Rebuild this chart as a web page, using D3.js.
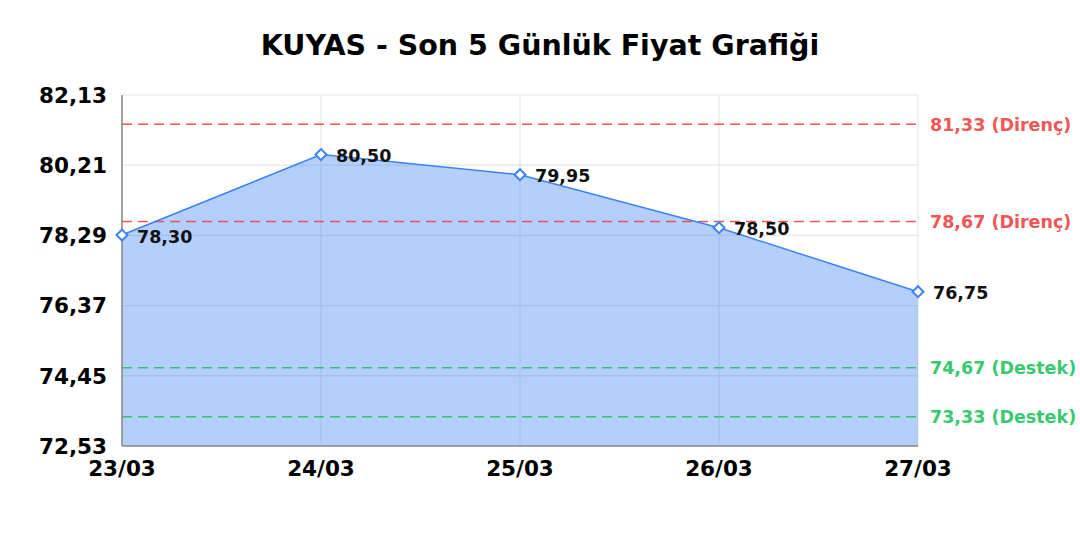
<!DOCTYPE html>
<html>
<head>
<meta charset="utf-8">
<script src="https://cdn.jsdelivr.net/npm/d3@7"></script>
<style>
  body { margin: 0; background: #fff; }
  text { font-family: "DejaVu Sans", sans-serif; font-weight: bold; }
</style>
</head>
<body>
<div id="chart"></div>
<script>
const dates = ["23/03", "24/03", "25/03", "26/03", "27/03"];
const prices = [78.30, 80.50, 79.95, 78.50, 76.75];
const yTicks = [72.53, 74.45, 76.37, 78.29, 80.21, 82.13];
const resistance = [81.33, 78.67];
const support = [74.67, 73.33];

const width = 1080, height = 540;
const margin = { top: 95, right: 162, bottom: 94, left: 122 };
const fmt = v => v.toFixed(2).replace(".", ",");

const svg = d3.select("#chart").append("svg")
  .attr("width", width).attr("height", height);

const x = d3.scalePoint().domain(dates).range([margin.left, width - margin.right]);
const y = d3.scaleLinear().domain([72.53, 82.13]).range([height - margin.bottom, margin.top]);

svg.append("text")
  .attr("x", width / 2).attr("y", 55)
  .attr("text-anchor", "middle")
  .attr("font-size", 28.5)
  .text("KUYAS - Son 5 Günlük Fiyat Grafiği");

// grid
svg.append("g").selectAll("line").data(yTicks).join("line")
  .attr("x1", margin.left).attr("x2", width - margin.right)
  .attr("y1", d => y(d)).attr("y2", d => y(d))
  .attr("stroke", "#e6e6e6").attr("stroke-width", 1.2);
svg.append("g").selectAll("line").data(dates).join("line")
  .attr("x1", d => x(d)).attr("x2", d => x(d))
  .attr("y1", margin.top).attr("y2", height - margin.bottom)
  .attr("stroke", "#e6e6e6").attr("stroke-width", 1.2);

const pts = dates.map((d, i) => ({ d, v: prices[i] }));

// area
svg.append("path").datum(pts)
  .attr("fill", "rgba(59,130,246,0.38)")
  .attr("d", d3.area().x(p => x(p.d)).y0(y(72.53)).y1(p => y(p.v)));

// reference lines
const refs = resistance.map(v => ({ v, label: `${fmt(v)} (Direnç)`, color: "#ef4444" }))
  .concat(support.map(v => ({ v, label: `${fmt(v)} (Destek)`, color: "#22c55e" })));
const rg = svg.append("g");
rg.selectAll("line").data(refs).join("line")
  .attr("x1", margin.left).attr("x2", width - margin.right)
  .attr("y1", d => y(d.v)).attr("y2", d => y(d.v))
  .attr("stroke", d => d.color).attr("stroke-width", 1.5)
  .attr("stroke-dasharray", "10,6").attr("opacity", 0.9);
rg.selectAll("text").data(refs).join("text")
  .attr("x", width - margin.right + 12).attr("y", d => y(d.v))
  .attr("dy", "0.38em")
  .attr("font-size", 17.5)
  .attr("fill", d => d.color)
  .attr("opacity", 0.9)
  .text(d => d.label);

// line
svg.append("path").datum(pts)
  .attr("fill", "none").attr("stroke", "#3b82f6").attr("stroke-width", 1.5)
  .attr("d", d3.line().x(p => x(p.d)).y(p => y(p.v)));

// axes lines
svg.append("line")
  .attr("x1", margin.left).attr("x2", margin.left)
  .attr("y1", margin.top).attr("y2", height - margin.bottom)
  .attr("stroke", "#888").attr("stroke-width", 1.5);
svg.append("line")
  .attr("x1", margin.left).attr("x2", width - margin.right)
  .attr("y1", height - margin.bottom).attr("y2", height - margin.bottom)
  .attr("stroke", "#888").attr("stroke-width", 1.5);

// markers
svg.append("g").selectAll("path").data(pts).join("path")
  .attr("transform", p => `translate(${x(p.d)},${y(p.v)}) rotate(45)`)
  .attr("d", d3.symbol(d3.symbolSquare, 60))
  .attr("fill", "#fff").attr("stroke", "#3b82f6").attr("stroke-width", 2);

// data labels
svg.append("g").selectAll("text").data(pts).join("text")
  .attr("x", p => x(p.d) + 15).attr("y", p => y(p.v) + 1)
  .attr("dy", "0.38em")
  .attr("font-size", 17.5)
  .attr("fill", "#111")
  .text(p => fmt(p.v));

// y tick labels
svg.append("g").selectAll("text").data(yTicks).join("text")
  .attr("x", margin.left - 15).attr("y", d => y(d))
  .attr("dy", "0.36em")
  .attr("text-anchor", "end")
  .attr("font-size", 21.5)
  .text(d => fmt(d));

// x tick labels
svg.append("g").selectAll("text").data(dates).join("text")
  .attr("x", d => x(d)).attr("y", height - margin.bottom + 30)
  .attr("text-anchor", "middle")
  .attr("font-size", 21.5)
  .text(d => d);
</script>
</body>
</html>
